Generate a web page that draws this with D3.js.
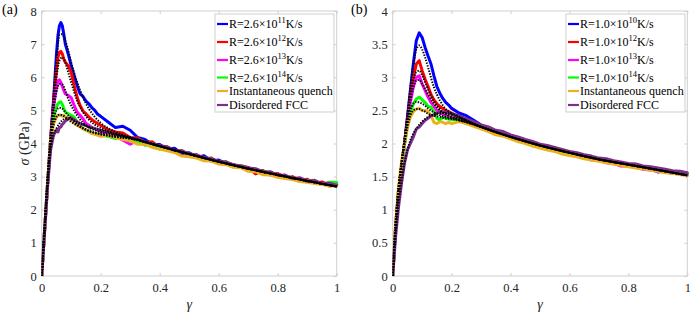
<!DOCTYPE html>
<head>
<meta charset="utf-8">
<title>Stress-strain</title>
<script src="https://d3js.org/d3.v7.min.js"></script>
<style>
  body { margin: 0; background: #fff; }
  text { font-family: "Liberation Serif", "Times New Roman", serif; }
</style>
</head>
<body>
<div id="container"></div>
<script>
// ---------------- data ----------------
const gammaA = [0,0.01,0.02,0.03,0.04,0.05,0.055,0.06,0.065,0.07,0.075,0.08,0.09,0.1,0.11,0.12,0.13,0.14,0.15,0.16,0.17,0.18,0.19,0.2,
  0.225,0.25,0.275,0.3,0.325,0.35,0.375,0.4,0.425,0.45,0.475,0.5,0.525,0.55,0.575,0.6,0.625,0.65,0.675,0.7,0.725,0.75,0.775,0.8,0.825,0.85,0.875,0.9,0.925,0.95,0.975,1];
const blueA = [0,1.4,2.8,4.1,5.3,6.7,7.25,7.55,7.65,7.55,7.3,7.0,6.7,6.35,6.05,5.75,5.5,5.42,5.28,5.2,5.08,5.0,4.88,4.82,
  4.65,4.48,4.52,4.4,4.18,4.12,3.98,3.97,3.82,3.86,3.7,3.72,3.58,3.63,3.47,3.5,3.4,3.36,3.28,3.27,3.18,3.17,3.08,3.08,2.98,2.97,2.9,2.9,2.82,2.82,2.76,2.78];
const redA = [0,1.4,2.8,4.1,5.2,6.2,6.6,6.75,6.78,6.7,6.55,6.45,6.35,6.15,5.75,5.4,5.15,4.98,4.9,4.8,4.72,4.66,4.6,4.55,
  4.42,4.35,4.32,4.18,4.17,4.03,4.05,3.88,3.9,3.76,3.79,3.63,3.66,3.52,3.56,3.41,3.45,3.3,3.33,3.28,3.08,3.18,3.05,3.09,2.96,3.0,2.87,2.92,2.8,2.84,2.72,2.76];
const magentaA = [0,1.4,2.8,4.1,5.1,5.7,5.88,5.92,5.85,5.72,5.6,5.5,5.45,5.38,5.15,4.95,4.85,4.75,4.6,4.55,4.48,4.45,4.4,4.35,
  4.3,4.22,4.1,3.98,4.1,4.0,3.98,3.9,3.85,3.77,3.75,3.64,3.66,3.52,3.53,3.44,3.41,3.33,3.31,3.24,3.21,3.1,3.15,3.0,3.05,2.92,2.96,2.87,2.85,2.79,2.8,2.8];
const greenA = [0,1.4,2.8,4.05,4.8,5.1,5.2,5.24,5.26,5.18,5.05,4.95,4.9,4.85,4.8,4.65,4.55,4.45,4.4,4.38,4.32,4.3,4.28,4.25,
  4.22,4.15,4.2,4.06,4.08,3.95,3.97,3.83,3.88,3.75,3.78,3.66,3.63,3.55,3.55,3.4,3.45,3.33,3.33,3.24,3.22,3.15,3.13,3.03,3.03,2.95,2.94,2.87,2.88,2.76,2.83,2.82];
const orangeA = [0,1.4,2.8,4.05,4.6,4.8,4.85,4.86,4.85,4.82,4.85,4.8,4.78,4.7,4.62,4.55,4.5,4.45,4.42,4.35,4.3,4.28,4.25,4.22,
  4.25,4.18,4.12,4.08,3.98,3.98,3.88,3.83,3.78,3.73,3.62,3.6,3.56,3.48,3.47,3.38,3.36,3.28,3.27,3.16,3.15,3.06,3.05,2.98,2.94,2.91,2.85,2.83,2.79,2.76,2.72,2.72];
const purpleA = [0,1.35,2.7,3.8,4.25,4.4,4.35,4.48,4.5,4.58,4.62,4.68,4.75,4.78,4.72,4.66,4.6,4.57,4.55,4.5,4.48,4.45,4.42,4.4,
  4.35,4.28,4.24,4.17,4.14,4.05,4.0,3.93,3.9,3.79,3.78,3.69,3.65,3.58,3.54,3.46,3.44,3.36,3.32,3.26,3.24,3.15,3.14,3.05,3.04,2.95,2.96,2.86,2.89,2.79,2.8,2.74];

const fitGammaA = [0,0.01,0.02,0.03,0.04,0.05,0.06,0.07,0.08,0.09,0.1,0.12,0.14,0.16,0.18,0.2,0.25,0.3,0.4,0.5,0.6,0.7,0.8,0.9,1];
const fitBlueA = [0,1.45,2.9,4.2,5.4,6.5,7.28,7.3,7.1,6.8,6.45,5.85,5.4,5.05,4.8,4.62,4.35,4.18,3.92,3.68,3.45,3.24,3.05,2.87,2.7];
const fitRedA = [0,1.45,2.9,4.15,5.2,6.0,6.5,6.6,6.45,6.15,5.85,5.3,4.95,4.72,4.57,4.47,4.3,4.18,3.92,3.68,3.45,3.24,3.05,2.87,2.7];
const fitMagentaA = [0,1.45,2.9,4.1,5.0,5.55,5.8,5.78,5.6,5.35,5.15,4.85,4.62,4.48,4.4,4.34,4.25,4.17,3.92,3.68,3.45,3.24,3.05,2.87,2.7];
const fitGreenA = [0,1.45,2.9,4.05,4.7,5.0,5.08,5.05,4.95,4.85,4.75,4.58,4.46,4.38,4.32,4.28,4.2,4.15,3.92,3.68,3.45,3.24,3.05,2.87,2.7];
const fitOrangeA = [0,1.45,2.9,4.0,4.55,4.8,4.87,4.85,4.8,4.72,4.65,4.55,4.46,4.38,4.32,4.28,4.2,4.15,3.92,3.68,3.45,3.24,3.05,2.87,2.7];
const fitPurpleA = [0,1.4,2.75,3.8,4.25,4.45,4.6,4.7,4.75,4.75,4.73,4.65,4.57,4.5,4.45,4.4,4.28,4.18,3.92,3.68,3.45,3.24,3.05,2.87,2.7];

const gammaB = [0,0.01,0.02,0.03,0.04,0.05,0.06,0.07,0.08,0.09,0.1,0.11,0.12,0.13,0.14,0.15,0.16,0.17,0.18,0.19,0.2,
  0.225,0.25,0.275,0.3,0.325,0.35,0.375,0.4,0.425,0.45,0.475,0.5,0.525,0.55,0.575,0.6,0.625,0.65,0.675,0.7,0.725,0.75,0.775,0.8,0.825,0.85,0.875,0.9,0.925,0.95,0.975,1];
const blueB = [0,0.75,1.3,1.65,2.0,2.4,2.8,3.2,3.55,3.67,3.6,3.45,3.32,3.2,3.02,2.86,2.76,2.68,2.62,2.58,2.53,
  2.46,2.42,2.35,2.28,2.22,2.19,2.13,2.12,2.06,2.04,1.99,1.97,1.93,1.92,1.87,1.87,1.82,1.82,1.77,1.77,1.72,1.73,1.69,1.66,1.67,1.63,1.63,1.57,1.59,1.56,1.56,1.53];
const redB = [0,0.75,1.3,1.65,2.0,2.35,2.7,2.98,3.2,3.25,3.1,2.97,2.86,2.74,2.66,2.6,2.56,2.53,2.5,2.48,2.46,
  2.4,2.33,2.3,2.26,2.2,2.17,2.15,2.09,2.08,2.02,2.0,1.96,1.95,1.9,1.9,1.85,1.84,1.8,1.79,1.76,1.75,1.71,1.71,1.67,1.67,1.63,1.63,1.6,1.59,1.56,1.56,1.53];
const magentaB = [0,0.75,1.3,1.65,2.0,2.32,2.62,2.85,3.0,3.02,2.9,2.8,2.7,2.62,2.56,2.5,2.47,2.44,2.42,2.4,2.39,
  2.36,2.32,2.28,2.24,2.2,2.16,2.13,2.1,2.05,2.02,1.98,1.96,1.92,1.9,1.86,1.84,1.81,1.79,1.75,1.75,1.71,1.7,1.66,1.66,1.64,1.61,1.6,1.58,1.57,1.55,1.54,1.52];
const greenB = [0,0.75,1.3,1.65,1.98,2.25,2.45,2.6,2.67,2.7,2.66,2.62,2.56,2.55,2.48,2.38,2.35,2.4,2.38,2.37,2.36,
  2.37,2.3,2.31,2.24,2.22,2.16,2.15,2.09,2.06,2.04,1.98,1.98,1.93,1.91,1.87,1.86,1.83,1.8,1.78,1.75,1.74,1.7,1.7,1.66,1.67,1.62,1.63,1.59,1.6,1.56,1.57,1.54];
const orangeB = [0,0.78,1.35,1.72,2.0,2.25,2.4,2.48,2.52,2.53,2.5,2.5,2.48,2.42,2.32,2.3,2.33,2.32,2.3,2.32,2.3,
  2.33,2.3,2.26,2.22,2.18,2.13,2.11,2.07,2.03,2.0,1.96,1.93,1.9,1.88,1.84,1.82,1.8,1.77,1.75,1.73,1.71,1.69,1.67,1.65,1.63,1.62,1.6,1.58,1.56,1.55,1.53,1.52];
const purpleB = [0,0.6,1.05,1.4,1.7,1.9,2.0,2.1,2.22,2.25,2.3,2.35,2.38,2.42,2.43,2.46,2.48,2.47,2.48,2.46,2.45,
  2.42,2.37,2.33,2.28,2.25,2.2,2.18,2.13,2.1,2.06,2.03,1.99,1.97,1.94,1.91,1.88,1.86,1.83,1.81,1.78,1.77,1.74,1.72,1.7,1.69,1.66,1.65,1.63,1.61,1.59,1.58,1.56];

const fitGammaB = [0,0.01,0.02,0.03,0.04,0.05,0.06,0.07,0.08,0.09,0.1,0.11,0.12,0.14,0.16,0.18,0.2,0.25,0.3,0.4,0.5,0.6,0.7,0.8,0.9,1];
const fitBlueB = [0,0.78,1.32,1.7,2.05,2.45,2.85,3.2,3.42,3.48,3.42,3.3,3.15,2.85,2.65,2.52,2.45,2.35,2.25,2.1,1.97,1.86,1.76,1.68,1.6,1.52];
const fitRedB = [0,0.78,1.32,1.7,2.05,2.4,2.72,2.95,3.08,3.1,3.03,2.93,2.82,2.64,2.52,2.45,2.41,2.33,2.25,2.1,1.97,1.86,1.76,1.68,1.6,1.52];
const fitMagentaB = [0,0.78,1.32,1.7,2.05,2.38,2.65,2.85,2.95,2.96,2.9,2.82,2.74,2.6,2.5,2.44,2.4,2.33,2.25,2.1,1.97,1.86,1.76,1.68,1.6,1.52];
const fitGreenB = [0,0.78,1.32,1.7,2.0,2.3,2.5,2.6,2.63,2.62,2.6,2.57,2.53,2.47,2.43,2.4,2.38,2.32,2.25,2.1,1.97,1.86,1.76,1.68,1.6,1.52];
const fitOrangeB = [0,0.78,1.32,1.7,2.0,2.25,2.42,2.5,2.52,2.52,2.5,2.48,2.45,2.42,2.4,2.38,2.37,2.32,2.25,2.1,1.97,1.86,1.76,1.68,1.6,1.52];
const fitPurpleB = [0,0.62,1.08,1.42,1.7,1.9,2.05,2.15,2.22,2.28,2.33,2.37,2.4,2.44,2.46,2.46,2.45,2.35,2.25,2.1,1.97,1.86,1.76,1.68,1.6,1.52];

const legendA = ["R=2.6×10^11^K/s","R=2.6×10^12^K/s","R=2.6×10^13^K/s","R=2.6×10^14^K/s","Instantaneous quench","Disordered FCC"];
const legendB = ["R=1.0×10^10^K/s","R=1.0×10^12^K/s","R=1.0×10^13^K/s","R=1.0×10^14^K/s","Instantaneous quench","Disordered FCC"];
const colors = ["#0000ff","#ff0000","#ff00ff","#00ff00","#edb120","#7e2f8e"];
const xTicks = [0,0.2,0.4,0.6,0.8,1];
const yTicksA = [0,1,2,3,4,5,6,7,8];
const yTicksB = [0,0.5,1,1.5,2,2.5,3,3.5,4];

// ---------------- layout ----------------
const width = 694, height = 312;
const svg = d3.select("#container").append("svg")
  .attr("width", width).attr("height", height);

const boxColor = "#cfcfcf";
const labelColor = "#262626";

function drawPanel(p) {
  const x = d3.scaleLinear().domain([0, 1]).range([p.left, p.right]);
  const y = d3.scaleLinear().domain([0, p.ymax]).range([p.bottom, p.top]);
  const fmt = d => String(d);

  // box
  svg.append("rect")
    .attr("x", p.left).attr("y", p.top)
    .attr("width", p.right - p.left).attr("height", p.bottom - p.top)
    .attr("fill", "none").attr("stroke", boxColor);

  const ax = (g) => {
    g.attr("font-family", null);
    g.select(".domain").remove();
    g.selectAll("line").attr("stroke", boxColor);
    g.selectAll("text").attr("fill", labelColor).style("font-size", "12.5px")
      .style("font-family", "'Liberation Serif', serif");
  };
  svg.append("g").attr("transform", `translate(0,${p.bottom})`)
    .call(d3.axisBottom(x).tickValues(xTicks).tickFormat(fmt).tickSize(-3).tickPadding(7)).call(ax);
  svg.append("g").attr("transform", `translate(0,${p.top})`)
    .call(d3.axisTop(x).tickValues(xTicks).tickFormat("").tickSize(-3)).call(ax);
  svg.append("g").attr("transform", `translate(${p.left},0)`)
    .call(d3.axisLeft(y).tickValues(p.yTicks).tickFormat(fmt).tickSize(-3).tickPadding(5)).call(ax);
  svg.append("g").attr("transform", `translate(${p.right},0)`)
    .call(d3.axisRight(y).tickValues(p.yTicks).tickFormat("").tickSize(-3)).call(ax);

  const clipId = "clip" + p.name;
  svg.append("clipPath").attr("id", clipId).append("rect")
    .attr("x", p.left).attr("y", p.top - 2)
    .attr("width", p.right - p.left + 2).attr("height", p.bottom - p.top + 2);

  const plot = svg.append("g").attr("clip-path", `url(#${clipId})`);

  const line = d3.line()
    .x(d => x(d[0])).y(d => y(d[1]));
  const smooth = d3.line().curve(d3.curveMonotoneX)
    .x(d => x(d[0])).y(d => y(d[1]));

  p.series.forEach((s, i) => {
    plot.append("path")
      .attr("d", line(d3.zip(p.gamma, s)))
      .attr("fill", "none").attr("stroke", colors[i])
      .attr("stroke-width", 3).attr("stroke-linejoin", "round").attr("stroke-linecap", "round");
  });
  p.fits.forEach(s => {
    plot.append("path")
      .attr("d", smooth(d3.zip(p.fitGamma, s)))
      .attr("fill", "none").attr("stroke", "#000")
      .attr("stroke-width", 2).attr("stroke-dasharray", "1.4,1.4");
  });

  // legend
  const lx = p.legendX, ly = 14, lw = 119, lh = 98;
  const lg = svg.append("g");
  lg.append("rect").attr("x", lx).attr("y", ly).attr("width", lw).attr("height", lh)
    .attr("fill", "#fff").attr("stroke", boxColor);
  const rows = [24, 42, 60, 77.5, 91, 105];
  p.legend.forEach((lab, i) => {
    lg.append("line").attr("x1", lx + 2).attr("x2", lx + 13)
      .attr("y1", rows[i]).attr("y2", rows[i])
      .attr("stroke", colors[i]).attr("stroke-width", 2.2);
    const t = lg.append("text").attr("x", lx + 14).attr("y", rows[i] + 4.2)
      .attr("fill", "#000").style("font-size", "12px");
    const parts = lab.split("^");
    if (parts.length === 3) {
      t.append("tspan").text(parts[0]);
      t.append("tspan").attr("dy", -5).style("font-size", "8.5px").text(parts[1]);
      t.append("tspan").attr("dy", 5).text(parts[2]);
    } else {
      t.text(lab);
    }
  });

  // x label
  svg.append("text").attr("x", (p.left + p.right) / 2).attr("y", 309)
    .attr("text-anchor", "middle").style("font-size", "14px").style("font-style", "italic")
    .attr("fill", labelColor).text("γ");

  svg.append("text").attr("x", p.tagX).attr("y", 14)
    .style("font-size", "14px").attr("fill", "#000").text(p.tag);
}

drawPanel({
  name: "a", left: 41.7, right: 336.7, top: 11, bottom: 276, ymax: 8, yTicks: yTicksA,
  gamma: gammaA, series: [blueA, redA, magentaA, greenA, orangeA, purpleA],
  fitGamma: fitGammaA, fits: [fitBlueA, fitRedA, fitMagentaA, fitGreenA, fitOrangeA, fitPurpleA],
  legend: legendA, legendX: 215, tag: "(a)", tagX: 2
});
drawPanel({
  name: "b", left: 392.7, right: 687.3, top: 11, bottom: 276, ymax: 4, yTicks: yTicksB,
  gamma: gammaB, series: [blueB, redB, magentaB, greenB, orangeB, purpleB],
  fitGamma: fitGammaB, fits: [fitBlueB, fitRedB, fitMagentaB, fitGreenB, fitOrangeB, fitPurpleB],
  legend: legendB, legendX: 566, tag: "(b)", tagX: 351
});

// y label panel a
const ylab = svg.append("text")
  .attr("transform", "translate(29,143.5) rotate(-90)")
  .attr("text-anchor", "middle").style("font-size", "14px").attr("fill", labelColor);
ylab.append("tspan").style("font-style", "italic").text("σ");
ylab.append("tspan").text(" (GPa)");
</script>
</body>
